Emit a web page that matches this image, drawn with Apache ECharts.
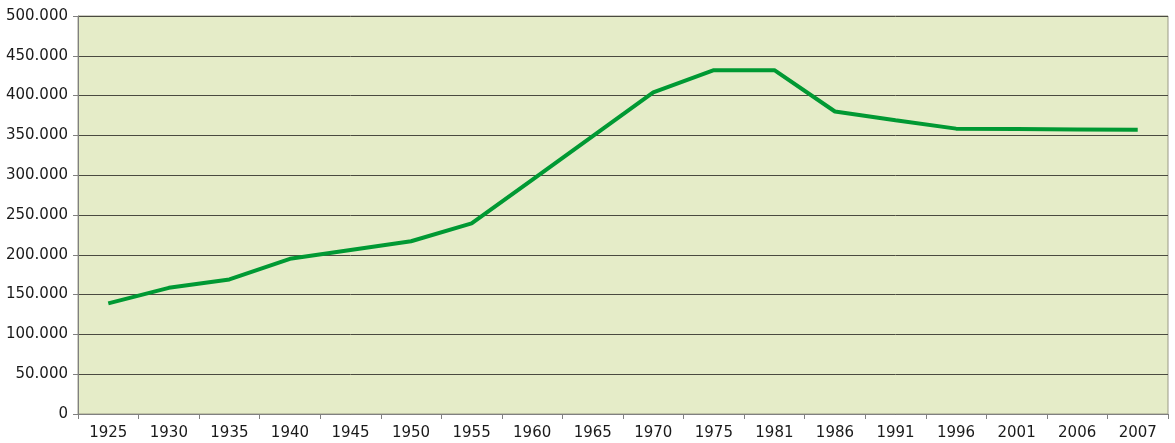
<!DOCTYPE html>
<html>
<head>
<meta charset="utf-8">
<script src="https://cdn.jsdelivr.net/npm/echarts@6/dist/echarts.min.js"></script>
<style>
  html, body { margin: 0; padding: 0; background: #fff; }
  #chart { width: 1175px; height: 443px; }
</style>
</head>
<body>
<div id="chart"></div>
<script>
// 年份（类目轴）
const years = ['1925', '1930', '1935', '1940', '1945', '1950', '1955', '1960', '1965',
  '1970', '1975', '1981', '1986', '1991', '1996', '2001', '2006', '2007'];
// 人口数值
const population = [139000, 158500, 169000, 195000, 206000, 217000, 239500, 294000, 349000,
  404000, 432000, 432000, 380000, 369000, 358500, 358000, 357500, 357000];
// y 轴刻度
const yMin = 0;
const yMax = 500000;
const yStep = 50000;

const chart = echarts.init(document.getElementById('chart'));

// 千分位用点号
function fmt(v) {
  if (v === 0) return '0';
  return String(v).replace(/\B(?=(\d{3})+(?!\d))/g, '.');
}

chart.setOption({
  animation: false,
  textStyle: { fontFamily: 'DejaVu Sans' },
  grid: {
    left: 78, right: 7, top: 16, bottom: 29,
    show: true,
    backgroundColor: '#e5ecc8',
    borderColor: '#9a9a86',
    borderWidth: 1
  },
  xAxis: {
    type: 'category',
    data: years,
    boundaryGap: true,
    axisLine: { lineStyle: { color: '#808080', width: 1 } },
    axisTick: { show: true, length: 5, lineStyle: { color: '#808080' } },
    axisLabel: { color: '#1a1a1a', fontSize: 15, margin: 12, interval: 0 },
    splitLine: { show: false }
  },
  yAxis: {
    type: 'value',
    min: yMin,
    max: yMax,
    interval: yStep,
    axisLine: { show: true, lineStyle: { color: '#808080', width: 1 } },
    axisTick: { show: true, length: 5, lineStyle: { color: '#808080' } },
    axisLabel: { color: '#1a1a1a', fontSize: 15, margin: 10, formatter: fmt },
    splitLine: { show: true, lineStyle: { color: '#4a4a40', width: 1 } }
  },
  series: [{
    type: 'line',
    data: population,
    symbol: 'none',
    lineStyle: { color: '#009933', width: 4 },
    itemStyle: { color: '#009933' }
  }]
});
</script>
</body>
</html>
